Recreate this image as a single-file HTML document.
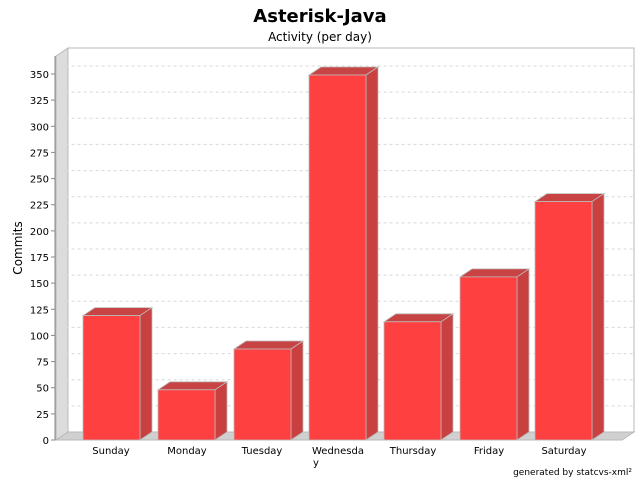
<!DOCTYPE html>
<html><head><style>body{margin:0;background:#fff}svg{display:block}text{font-family:"DejaVu Sans","Liberation Sans",sans-serif}</style></head><body>
<svg width="640" height="480" xmlns="http://www.w3.org/2000/svg">
<rect width="640" height="480" fill="#fff"/>
<text x="320" y="22" text-anchor="middle" font-size="18" font-weight="bold">Asterisk-Java</text>
<text x="320" y="41" text-anchor="middle" font-size="12">Activity (per day)</text>
<polygon points="56,56 68,48 68,432 56,440" fill="#dcdcdc" stroke="#b8b8b8"/>
<polygon points="56,440 68,432 634,432 622,440" fill="#d0d0d0" stroke="#b8b8b8"/>
<rect x="68" y="48" width="566" height="384" fill="#fff" stroke="#b8b8b8"/>
<g stroke="#d8d8d8" stroke-dasharray="3,3" fill="none">
<polyline points="56,413.9 68,405.9 634,405.9"/>
<polyline points="56,387.7 68,379.7 634,379.7"/>
<polyline points="56,361.6 68,353.6 634,353.6"/>
<polyline points="56,335.4 68,327.4 634,327.4"/>
<polyline points="56,309.3 68,301.3 634,301.3"/>
<polyline points="56,283.1 68,275.1 634,275.1"/>
<polyline points="56,257 68,249 634,249"/>
<polyline points="56,230.9 68,222.9 634,222.9"/>
<polyline points="56,204.7 68,196.7 634,196.7"/>
<polyline points="56,178.6 68,170.6 634,170.6"/>
<polyline points="56,152.4 68,144.4 634,144.4"/>
<polyline points="56,126.3 68,118.3 634,118.3"/>
<polyline points="56,100.1 68,92.1 634,92.1"/>
<polyline points="56,74 68,66 634,66"/>
</g>
<g stroke="#bbb" stroke-width="0.8">
<polygon points="83,315.6 95,307.6 152,307.6 140,315.6" fill="#c84444"/>
<polygon points="140,315.6 152,307.6 152,432 140,440" fill="#c84040"/>
<rect x="83" y="315.6" width="57" height="124.4" fill="#ff4040"/>
<polygon points="158,389.8 170,381.8 227,381.8 215,389.8" fill="#c84444"/>
<polygon points="215,389.8 227,381.8 227,432 215,440" fill="#c84040"/>
<rect x="158" y="389.8" width="57" height="50.2" fill="#ff4040"/>
<polygon points="234,349 246,341 303,341 291,349" fill="#c84444"/>
<polygon points="291,349 303,341 303,432 291,440" fill="#c84040"/>
<rect x="234" y="349" width="57" height="91" fill="#ff4040"/>
<polygon points="309,75 321,67 378,67 366,75" fill="#c84444"/>
<polygon points="366,75 378,67 378,432 366,440" fill="#c84040"/>
<rect x="309" y="75" width="57" height="365" fill="#ff4040"/>
<polygon points="384,321.8 396,313.8 453,313.8 441,321.8" fill="#c84444"/>
<polygon points="441,321.8 453,313.8 453,432 441,440" fill="#c84040"/>
<rect x="384" y="321.8" width="57" height="118.2" fill="#ff4040"/>
<polygon points="460,276.9 472,268.9 529,268.9 517,276.9" fill="#c84444"/>
<polygon points="517,276.9 529,268.9 529,432 517,440" fill="#c84040"/>
<rect x="460" y="276.9" width="57" height="163.1" fill="#ff4040"/>
<polygon points="535,201.6 547,193.6 604,193.6 592,201.6" fill="#c84444"/>
<polygon points="592,201.6 604,193.6 604,432 592,440" fill="#c84040"/>
<rect x="535" y="201.6" width="57" height="238.4" fill="#ff4040"/>
</g>
<line x1="55" y1="56" x2="55" y2="440" stroke="#888"/>
<g stroke="#888">
<line x1="51" x2="55" y1="440" y2="440"/><line x1="51" x2="55" y1="413.9" y2="413.9"/><line x1="51" x2="55" y1="387.7" y2="387.7"/><line x1="51" x2="55" y1="361.6" y2="361.6"/><line x1="51" x2="55" y1="335.4" y2="335.4"/><line x1="51" x2="55" y1="309.3" y2="309.3"/><line x1="51" x2="55" y1="283.1" y2="283.1"/><line x1="51" x2="55" y1="257" y2="257"/><line x1="51" x2="55" y1="230.9" y2="230.9"/><line x1="51" x2="55" y1="204.7" y2="204.7"/><line x1="51" x2="55" y1="178.6" y2="178.6"/><line x1="51" x2="55" y1="152.4" y2="152.4"/><line x1="51" x2="55" y1="126.3" y2="126.3"/><line x1="51" x2="55" y1="100.1" y2="100.1"/><line x1="51" x2="55" y1="74" y2="74"/>
</g>
<g font-size="10" text-anchor="end">
<text x="49" y="444">0</text><text x="49" y="417.9">25</text><text x="49" y="391.7">50</text><text x="49" y="365.6">75</text><text x="49" y="339.4">100</text><text x="49" y="313.3">125</text><text x="49" y="287.1">150</text><text x="49" y="261">175</text><text x="49" y="234.9">200</text><text x="49" y="208.7">225</text><text x="49" y="182.6">250</text><text x="49" y="156.4">275</text><text x="49" y="130.3">300</text><text x="49" y="104.1">325</text><text x="49" y="78">350</text>
</g>
<text transform="translate(22,248) rotate(-90)" text-anchor="middle" font-size="12">Commits</text>
<g font-size="10" text-anchor="middle">
<text x="111" y="454">Sunday</text><text x="187" y="454">Monday</text><text x="262" y="454">Tuesday</text>
<text x="338" y="454">Wednesda</text><text x="316" y="466">y</text>
<text x="413" y="454">Thursday</text><text x="489" y="454">Friday</text><text x="564" y="454">Saturday</text>
</g>
<text x="632" y="475" text-anchor="end" font-size="9">generated by statcvs-xml²</text>
</svg>
</body></html>
